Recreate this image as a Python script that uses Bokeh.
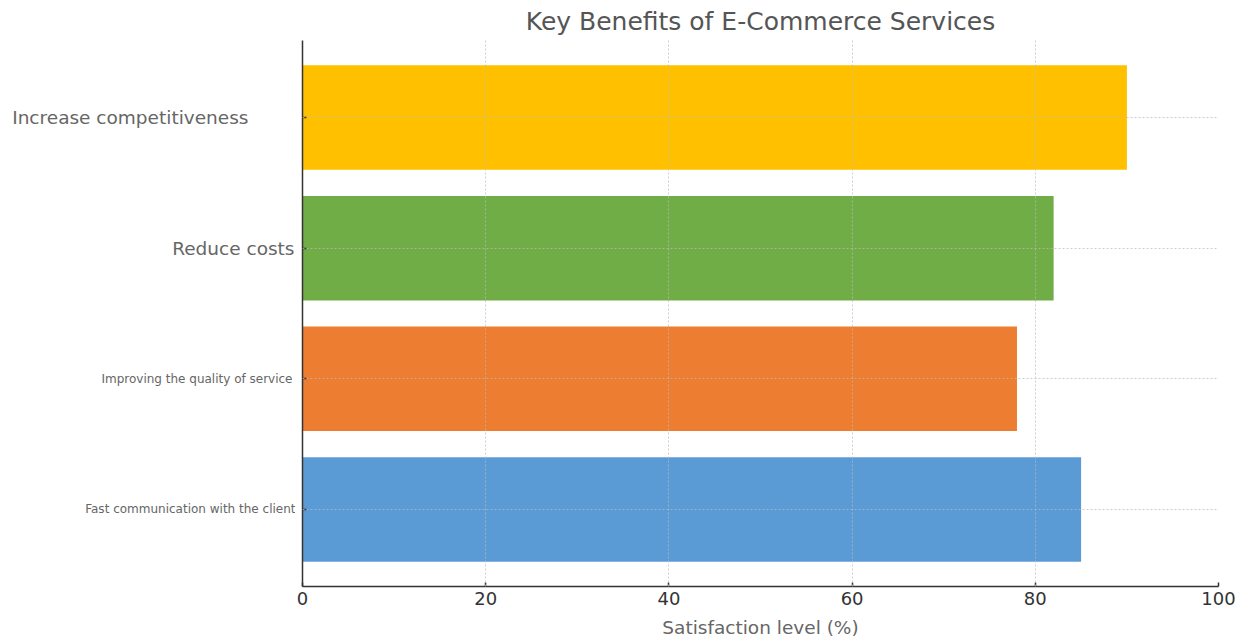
from bokeh.plotting import figure
from bokeh.models import Range1d, FixedTicker, ColumnDataSource
from bokeh.layouts import row
from bokeh.embed import file_html
from bokeh.resources import INLINE

categories = ["Fast communication with the client", "Improving the quality of service",
              "Reduce costs", "Increase competitiveness"]
values = [85, 78, 82, 90]
colors = ["#5B9BD5", "#ED7D31", "#70AD47", "#FFC000"]
label_sizes = ["12px", "12px", "18.5px", "18.5px"]
label_offsets = [0, -3, -1, -47]
x_ticks = [0, 20, 40, 60, 80, 100]

FONT = "DejaVu Sans"
TOP, BOTTOM = 40, 55

idx = list(range(len(categories)))
y_range = Range1d(-0.59, 3.59)

# main plot
p = figure(width=953, height=641, output_backend="svg", toolbar_location=None,
           x_range=Range1d(0, 100), y_range=y_range,
           min_border_left=7, min_border_right=30, min_border_top=TOP, min_border_bottom=BOTTOM)

src = ColumnDataSource(dict(y=idx, v=values, c=colors))
p.hbar(y="y", left=0, right="v", height=0.8, fill_color="c", line_color=None, source=src)

p.title.text = "Key Benefits of E-Commerce Services"
p.title.align = "center"
p.title.text_font = FONT
p.title.text_font_size = "25px"
p.title.text_font_style = "normal"
p.title.text_color = "#555555"
p.title.standoff = 9

p.outline_line_color = None

p.xaxis.ticker = FixedTicker(ticks=x_ticks)
p.xaxis.axis_label = "Satisfaction level (%)"
p.xaxis.axis_label_text_font = FONT
p.xaxis.axis_label_text_font_size = "18.5px"
p.xaxis.axis_label_text_font_style = "normal"
p.xaxis.axis_label_text_color = "#666666"
p.xaxis.axis_label_standoff = 9
p.xaxis.major_label_text_font = FONT
p.xaxis.major_label_text_font_size = "18px"
p.xaxis.major_label_text_color = "#333333"
p.xaxis.major_label_standoff = 5

p.yaxis.ticker = FixedTicker(ticks=idx)
p.yaxis.major_label_text_font_size = "1px"
p.yaxis.major_label_text_color = None
p.yaxis.major_label_standoff = 0

for ax in (p.xaxis[0], p.yaxis[0]):
    ax.axis_line_color = "#333333"
    ax.axis_line_width = 1.5
    ax.major_tick_line_color = "#333333"
    ax.major_tick_line_width = 1.5
    ax.major_tick_in = 4
    ax.major_tick_out = 0
    ax.minor_tick_line_color = None

p.xgrid.ticker = FixedTicker(ticks=x_ticks)
p.ygrid.ticker = FixedTicker(ticks=idx)
p.grid.grid_line_color = "#bbbbbb"
p.grid.grid_line_alpha = 0.7
p.grid.grid_line_dash = "2 2"
p.grid.level = "overlay"

# category labels panel (different label sizes per category)
lp = figure(width=295, height=641, output_backend="svg", toolbar_location=None,
            x_range=Range1d(0, 1), y_range=y_range, x_axis_type=None, y_axis_type=None,
            min_border_left=0, min_border_right=0, min_border_top=TOP, min_border_bottom=BOTTOM)
lp.outline_line_color = None
lp.grid.visible = False
lsrc = ColumnDataSource(dict(y=idx, text=categories, size=label_sizes,
                             off=label_offsets, x=[1] * len(idx)))
lp.text(x="x", y="y", text="text", source=lsrc, x_offset="off",
        text_font_size="size", text_align="right", text_baseline="middle",
        text_color="#666666", text_font={"value": FONT})

layout = row(lp, p)
open("out.html", "w").write(file_html(layout, INLINE))
